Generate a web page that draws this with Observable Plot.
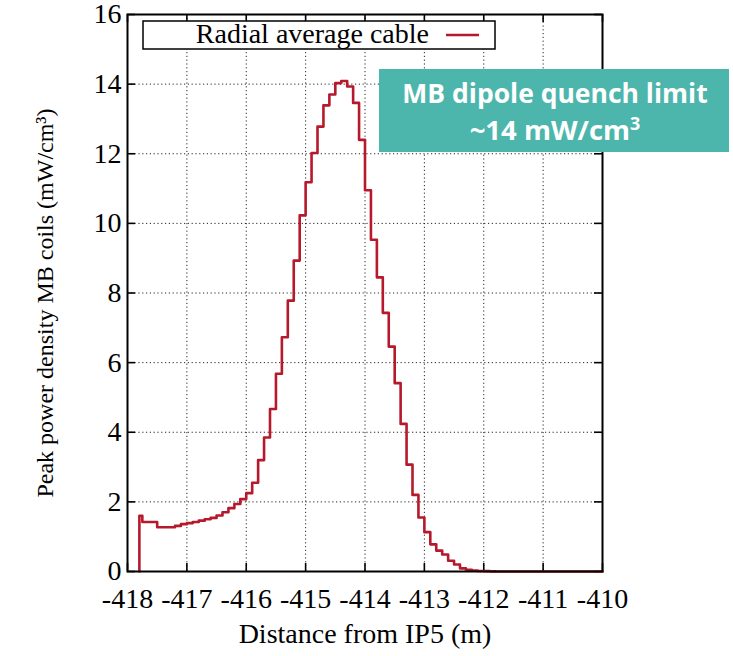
<!DOCTYPE html>
<html>
<head>
<meta charset="utf-8">
<script src="https://cdn.jsdelivr.net/npm/d3@7"></script>
<script src="https://cdn.jsdelivr.net/npm/@observablehq/plot@0.6"></script>
<style>
  body { margin: 0; background: #fff; }
  #wrap { position: relative; width: 733px; height: 656px; overflow: hidden; }
  #overlay { position: absolute; left: 0; top: 0; pointer-events: none; }
</style>
</head>
<body>
<div id="wrap">
  <div id="chart"></div>
  <svg id="overlay" width="733" height="656" xmlns="http://www.w3.org/2000/svg">
    <rect x="143" y="21" width="352" height="28" fill="#fff" stroke="#000" stroke-width="1.5"/>
    <text x="429" y="43" text-anchor="end" font-family="'Liberation Serif', serif" font-size="28" fill="#000">Radial average cable</text>
    <line x1="446" x2="479" y1="35" y2="35" stroke="#b5192b" stroke-width="2.6"/>
    <rect x="379" y="69" width="350" height="83" fill="#4db6ac"/>
    <text x="555" y="103" text-anchor="middle" fill="#fff" font-family="'Open Sans', sans-serif" font-weight="bold" font-size="26.5">MB dipole quench limit</text>
    <text x="555" y="140" text-anchor="middle" fill="#fff" font-family="'Open Sans', sans-serif" font-weight="bold" font-size="27.5">~14 mW/cm<tspan dy="-10" font-size="18">3</tspan></text>
  </svg>
</div>
<script>
// ---- data ----
const xTicks = [-418, -417, -416, -415, -414, -413, -412, -411, -410];
const yTicks = [0, 2, 4, 6, 8, 10, 12, 14, 16];

// left edge of each histogram bin (m)
const binStart = [
  -417.8, -417.8, -417.75, -417.5, -417.2, -417.1, -417.0, -416.9, -416.8, -416.7,
  -416.6, -416.5, -416.4, -416.3, -416.2, -416.1, -416.0, -415.9, -415.8, -415.7,
  -415.6, -415.5, -415.4, -415.3, -415.2, -415.1, -415.0, -414.9, -414.8, -414.7,
  -414.6, -414.5, -414.4, -414.3, -414.2, -414.1, -414.0, -413.9, -413.8, -413.7,
  -413.6, -413.5, -413.4, -413.3, -413.2, -413.1, -413.0, -412.9, -412.8, -412.7,
  -412.6, -412.5, -412.4, -412.3, -412.2, -412.1, -412.0, -411.9, -411.8, -410.0
];
// peak power density in each bin (mW/cm3)
const power = [
  0, 1.60, 1.42, 1.27, 1.31, 1.36, 1.39, 1.42, 1.46, 1.50,
  1.54, 1.61, 1.70, 1.82, 1.94, 2.08, 2.25, 2.55, 3.20, 3.85,
  4.67, 5.68, 6.73, 7.78, 8.93, 10.23, 11.18, 12.02, 12.78, 13.39,
  13.70, 14.03, 14.09, 13.93, 13.46, 12.40, 10.95, 9.53, 8.45, 7.43,
  6.46, 5.41, 4.24, 3.07, 2.20, 1.55, 1.13, 0.78, 0.60, 0.49,
  0.31, 0.20, 0.09, 0.05, 0.03, 0.015, 0.01, 0.005, 0, 0
];

const xLabel = "Distance from IP5 (m)";
const yLabel = "Peak power density MB coils (mW/cm\u00B3)";

// ---- chart ----
const rows = binStart.map((x, i) => ({x, y: power[i]}));
const W = 733, H = 656, mL = 127, mR = 131, mT = 14, mB = 85;
const pw = W - mL - mR, ph = H - mT - mB;
const serif = "'Liberation Serif', 'Times New Roman', serif";
const gridStyle = {stroke: "#000", strokeOpacity: 0.85, strokeWidth: 1, strokeDasharray: "1.2,2.6"};
const tickStyle = {stroke: "#000", strokeWidth: 1.6};

const chart = Plot.plot({
  width: W, height: H,
  marginLeft: mL, marginRight: mR, marginTop: mT, marginBottom: mB,
  style: {fontFamily: serif, fontSize: "28px", color: "#000", background: "#fff", overflow: "visible"},
  x: {domain: [xTicks[0], xTicks[xTicks.length - 1]]},
  y: {domain: [yTicks[0], yTicks[yTicks.length - 1]]},
  marks: [
    Plot.gridX(xTicks.slice(1, -1), gridStyle),
    Plot.gridY(yTicks.slice(1, -1), gridStyle),
    Plot.tickX(xTicks, {x: d => d, ...tickStyle, insetTop: ph - 8}),
    Plot.tickX(xTicks, {x: d => d, ...tickStyle, insetBottom: ph - 8}),
    Plot.tickY(yTicks, {y: d => d, ...tickStyle, insetRight: pw - 8}),
    Plot.tickY(yTicks, {y: d => d, ...tickStyle, insetLeft: pw - 8}),
    Plot.line(rows, {x: "x", y: "y", curve: "step-after", stroke: "#b5192b", strokeWidth: 2.6}),
    Plot.axisX(xTicks, {tickSize: 0, tickPadding: 17, tickFormat: d => String(d), label: null, fontSize: 28}),
    Plot.axisY(yTicks, {tickSize: 0, tickPadding: 6, tickFormat: d => String(d), label: null, fontSize: 28}),
    Plot.text([xLabel], {frameAnchor: "bottom", dy: 71, text: d => d, fontSize: 28, fill: "#000"}),
    Plot.text([yLabel], {frameAnchor: "left", textAnchor: "middle", rotate: -90, dx: -82, dy: 10, text: d => d, fontSize: 24, fill: "#000"}),
    Plot.frame({stroke: "#000", strokeWidth: 2})
  ]
});
document.getElementById("chart").appendChild(chart);
</script>
</body>
</html>
